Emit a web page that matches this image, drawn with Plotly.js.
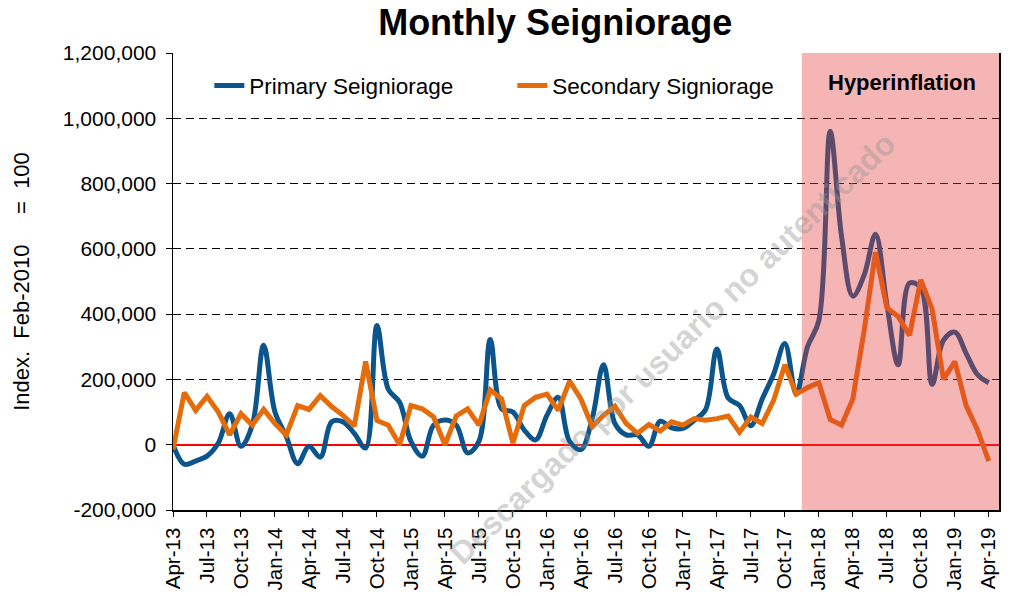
<!DOCTYPE html>
<html>
<head>
<meta charset="utf-8">
<script src="https://cdn.plot.ly/plotly-3.0.1.min.js"></script>
<style>
html, body { margin: 0; padding: 0; background: #ffffff; }
#chart { width: 1014px; height: 596px; }
</style>
</head>
<body>
<div id="chart"></div>
<script>
// ---- Data ----
const months = [
  'Apr-13','May-13','Jun-13','Jul-13','Aug-13','Sep-13','Oct-13','Nov-13','Dec-13',
  'Jan-14','Feb-14','Mar-14','Apr-14','May-14','Jun-14','Jul-14','Aug-14','Sep-14','Oct-14','Nov-14','Dec-14',
  'Jan-15','Feb-15','Mar-15','Apr-15','May-15','Jun-15','Jul-15','Aug-15','Sep-15','Oct-15','Nov-15','Dec-15',
  'Jan-16','Feb-16','Mar-16','Apr-16','May-16','Jun-16','Jul-16','Aug-16','Sep-16','Oct-16','Nov-16','Dec-16',
  'Jan-17','Feb-17','Mar-17','Apr-17','May-17','Jun-17','Jul-17','Aug-17','Sep-17','Oct-17','Nov-17','Dec-17',
  'Jan-18','Feb-18','Mar-18','Apr-18','May-18','Jun-18','Jul-18','Aug-18','Sep-18','Oct-18','Nov-18','Dec-18',
  'Jan-19','Feb-19','Mar-19','Apr-19'
];

const primarySeigniorage = [
  0, -60000, -50000, -35000, 5000, 95000, -5000, 60000, 305000,
  100000, 25000, -58000, -5000, -38000, 70000, 70000, 35000, -10000, 365000, 170000, 130000,
  10000, -35000, 60000, 76000, 60000, -25000, 10000, 322000, 110000, 100000, 45000, 15000,
  90000, 145000, 10000, -15000, 80000, 245000, 65000, 30000, 30000, -5000, 72000, 52000,
  50000, 75000, 107000, 293000, 143000, 120000, 58000, 140000, 215000, 310000, 155000, 300000,
  380000, 960000, 640000, 455000, 520000, 645000, 430000, 245000, 495000, 480000, 185000, 320000,
  345000, 280000, 215000, 190000
];

const secondarySigniorage = [
  -15000, 160000, 105000, 148000, 100000, 30000, 95000, 60000, 108000,
  65000, 30000, 120000, 108000, 150000, 117000, 90000, 57000, 255000, 74000, 60000, 0,
  120000, 110000, 85000, 0, 88000, 110000, 60000, 168000, 140000, 5000, 120000, 145000,
  155000, 105000, 195000, 140000, 55000, 90000, 118000, 65000, 35000, 62000, 42000, 70000,
  60000, 80000, 75000, 80000, 88000, 38000, 85000, 65000, 135000, 245000, 155000, 175000,
  190000, 77000, 60000, 140000, 350000, 590000, 420000, 393000, 335000, 505000, 415000, 200000,
  255000, 120000, 45000, -50000
];

const xTickLabels = [
  'Apr-13','Jul-13','Oct-13','Jan-14','Apr-14','Jul-14','Oct-14','Jan-15','Apr-15',
  'Jul-15','Oct-15','Jan-16','Apr-16','Jul-16','Oct-16','Jan-17','Apr-17','Jul-17',
  'Oct-17','Jan-18','Apr-18','Jul-18','Oct-18','Jan-19','Apr-19'
];

const yTickValues = [-200000, 0, 200000, 400000, 600000, 800000, 1000000, 1200000];
const yTickLabels = ['-200,000', '0', '200,000', '400,000', '600,000', '800,000', '1,000,000', '1,200,000'];

const seriesNames = ['Primary Seigniorage', 'Secondary Signiorage'];
const hyperinflationLabel = 'Hyperinflation';
const hyperinflationStart = 55.5;   // between Nov-17 and Dec-17 (category position)

// ---- Styling ----
const FONT = 'Liberation Sans, Arial, Helvetica, sans-serif';
const X_MAX = 72.9;

const traces = [
  {
    x: months, y: primarySeigniorage, name: seriesNames[0],
    type: 'scatter', mode: 'lines',
    line: { color: '#0b558c', width: 5, shape: 'spline', smoothing: 1 },
    hoverinfo: 'x+y'
  },
  {
    x: months, y: secondarySigniorage, name: seriesNames[1],
    type: 'scatter', mode: 'lines',
    line: { color: '#e46c0a', width: 5 },
    hoverinfo: 'x+y'
  }
];

const layout = {
  width: 1014, height: 596,
  margin: { l: 173, r: 15, t: 53, b: 86, pad: 0 },
  paper_bgcolor: '#ffffff', plot_bgcolor: '#ffffff',
  font: { family: FONT, color: '#000000', size: 20 },
  showlegend: true,
  title: {
    text: '<b>Monthly Seigniorage</b>',
    font: { family: FONT, size: 36, color: '#000000' },
    x: 0.5475, xref: 'container', xanchor: 'center',
    y: 0.963, yref: 'container', yanchor: 'middle'
  },
  xaxis: {
    type: 'category',
    range: [0, X_MAX],
    tickmode: 'array', tickvals: xTickLabels, ticktext: xTickLabels,
    tickangle: -90,
    tickfont: { family: FONT, size: 20.5, color: '#000000' },
    ticks: 'outside', ticklen: 5, tickcolor: '#000000', tickwidth: 1,
    ticklabelstandoff: 3,
    showline: true, linecolor: '#000000', linewidth: 1.5,
    showgrid: false, zeroline: false, fixedrange: true
  },
  yaxis: {
    range: [-200000, 1200000],
    tickmode: 'array', tickvals: yTickValues, ticktext: yTickLabels,
    tickfont: { family: FONT, size: 21, color: '#000000' },
    ticks: 'outside', ticklen: 6, tickcolor: '#000000', tickwidth: 1,
    ticklabelstandoff: 5,
    showline: true, linecolor: '#000000', linewidth: 1.5, mirror: true,
    showgrid: true, gridcolor: '#000000', gridwidth: 1.2, griddash: '8px,5px',
    zeroline: true, zerolinecolor: '#ff0000', zerolinewidth: 1.6,
    title: {
      text: 'Index.\u00a0\u00a0Feb-2010\u00a0\u00a0\u00a0\u00a0\u00a0=\u00a0\u00a0100',
      font: { family: FONT, size: 22, color: '#000000' },
      standoff: 27
    },
    fixedrange: true
  },
  legend: {
    orientation: 'h',
    x: 0.044, y: 0.928, xanchor: 'left', yanchor: 'middle',
    font: { family: FONT, size: 22.5, color: '#000000' },
    bgcolor: 'rgba(0,0,0,0)',
    entrywidth: 258, entrywidthmode: 'pixels',
    itemwidth: 30
  },
  shapes: [
    {
      type: 'rect', layer: 'above',
      xref: 'x', yref: 'paper',
      x0: hyperinflationStart, x1: X_MAX, y0: 0, y1: 1,
      fillcolor: 'rgba(228,60,60,0.38)',
      line: { width: 0 }
    }
  ],
  annotations: [
    {
      text: '<b>' + hyperinflationLabel + '</b>',
      xref: 'paper', yref: 'paper', x: 0.8826, y: 0.9365,
      xanchor: 'center', yanchor: 'middle', showarrow: false,
      font: { family: FONT, size: 22, color: '#000000' }
    },
    {
      text: '<b>Descargado por usuario no autenticado</b>',
      xref: 'paper', yref: 'paper', x: 0.605, y: 0.355,
      xanchor: 'center', yanchor: 'middle', showarrow: false,
      textangle: -44,
      font: { family: FONT, size: 32, color: 'rgba(150,150,150,0.42)' }
    }
  ]
};

Plotly.newPlot('chart', traces, layout, { displayModeBar: false, staticPlot: true });
</script>
</body>
</html>
